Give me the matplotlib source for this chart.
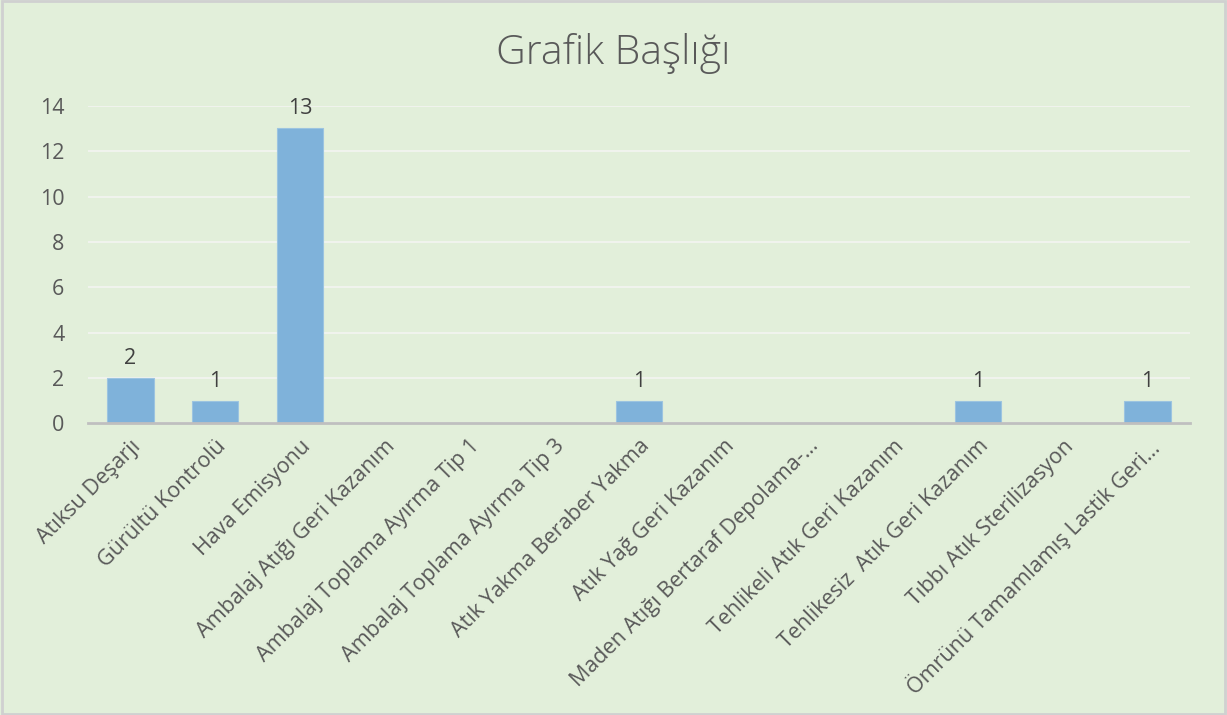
import matplotlib.pyplot as plt
from matplotlib.patches import Rectangle

categories = [
    "Atıksu Deşarjı",
    "Gürültü Kontrolü",
    "Hava Emisyonu",
    "Ambalaj Atığı Geri Kazanım",
    "Ambalaj Toplama Ayırma Tip 1",
    "Ambalaj Toplama Ayırma Tip 3",
    "Atık Yakma Beraber Yakma",
    "Atık Yağ Geri Kazanım",
    "Maden Atığı Bertaraf Depolama-…",
    "Tehlikeli Atık Geri Kazanım",
    "Tehlikesiz  Atık Geri Kazanım",
    "Tıbbı Atık Sterilizasyon",
    "Ömrünü Tamamlamış Lastik Geri…",
]
values = [2, 1, 13, 0, 0, 0, 1, 0, 0, 0, 1, 0, 1]
yticks = [0, 2, 4, 6, 8, 10, 12, 14]

bg = "#E2EFDA"
text_col = "#595959"
plt.rcParams["font.family"] = ["Open Sans", "DejaVu Sans"]

fig = plt.figure(figsize=(12.27, 7.15), dpi=100)
fig.patch.set_facecolor(bg)
fig.patches.append(Rectangle((0.002, 0.002), 0.996, 0.996, transform=fig.transFigure,
                             fill=False, edgecolor="#D0D0D0", linewidth=2))

ax = fig.add_axes([0.0717, 0.408, 0.898, 0.444])
ax.set_facecolor(bg)

x = list(range(len(categories)))
bars = ax.bar(x, values, width=0.55, color="#7FB2DA", edgecolor="#9CC4E0", linewidth=0.8, zorder=3)

for xi, v in zip(x, values):
    if v > 0:
        ax.text(xi, v + 0.4, str(v), ha="center", va="bottom", fontsize=15.5, color="#404040")

ax.set_xlim(-0.5, len(categories) - 0.5)
ax.set_ylim(0, 14)
ax.set_yticks(yticks)
ax.yaxis.grid(True, color="#F2F4F0", linewidth=1.3, zorder=0)
ax.set_xticks(x)
ax.set_xticklabels(categories, rotation=45, ha="right", rotation_mode="anchor",
                   fontsize=15.5, color=text_col)
ax.tick_params(axis="x", length=0, pad=9)
ax.tick_params(axis="y", length=0, pad=17, labelsize=15.5, labelcolor=text_col)
for s in ["top", "right", "left"]:
    ax.spines[s].set_visible(False)
ax.spines["bottom"].set_color("#BFBFBF")
ax.spines["bottom"].set_linewidth(2)
ax.spines["bottom"].set_zorder(4)

fig.text(0.5, 0.925, "Grafik Başlığı", ha="center", va="center", fontsize=29.5,
         fontweight="light", color=text_col)

fig.savefig("out.png", dpi=100, facecolor=bg)
